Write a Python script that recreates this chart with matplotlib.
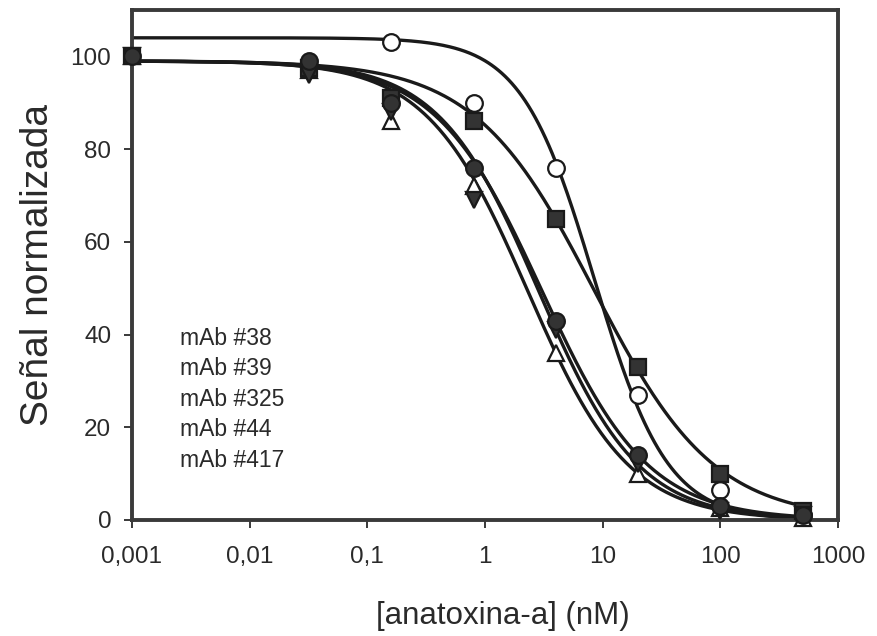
import numpy as np
import matplotlib
matplotlib.use("Agg")
import matplotlib.pyplot as plt
from matplotlib.ticker import FixedLocator, NullLocator

plt.rcParams['font.family'] = ['Liberation Sans', 'DejaVu Sans']

# concentrations (nM), 5-fold dilutions
conc = [0.001, 0.032, 0.16, 0.8, 4, 20, 100, 500]

# normalised signal (nan = not visible)
mab38 = [np.nan, np.nan, 103, 90, 76, 27, 6.5, 1]        # open circle
mab39 = [100, 97.5, 91, 86, 65, 33, 10, 2]               # filled square
mab325 = [100, 99, 90, 76, 43, 14, 3, 1]                 # filled circle
mab44 = [100, 97, 86, 72, 36, 10, 2.5, 0.5]              # open triangle
mab417 = [100, 96, 88, 69, 41, 12, 2, 1]                 # filled triangle down

# four-parameter logistic fit values (top, bottom, IC50, hill)
fit38 = [104, 0, 8.5, 1.4]
fit39 = [99, 0, 8.5, 0.85]
fit325 = [99, 0, 3.04, 0.96]
fit44 = [99, 0, 2.3, 1.01]
fit417 = [99, 0, 2.85, 1.02]

labels = ['mAb #38', 'mAb #39', 'mAb #325', 'mAb #44', 'mAb #417']
xticks = [0.001, 0.01, 0.1, 1, 10, 100, 1000]
xticklabels = ['0,001', '0,01', '0,1', '1', '10', '100', '1000']
yticks = [0, 20, 40, 60, 80, 100]


def logistic(x, p):
    top, bottom, ic50, hill = p
    return bottom + (top - bottom) / (1 + (x / ic50) ** hill)


fig = plt.figure(figsize=(8.78, 6.36), dpi=100)
ax = fig.add_axes([0.1503, 0.1824, 0.8041, 0.8019])

xs = np.logspace(-3, np.log10(500), 400)
dark = '#333333'
txt = '#2a2a2a'

series = [
    (mab38, fit38, 'o', 'white'),
    (mab44, fit44, '^', 'white'),
    (mab39, fit39, 's', dark),
    (mab417, fit417, 'v', dark),
    (mab325, fit325, 'o', dark),
]

for vals, fit, mk, fc in series:
    ax.plot(xs, logistic(xs, fit), color='#1a1a1a', lw=2.4, zorder=2)

for vals, fit, mk, fc in series:
    ms = 12 if mk != 's' else 11
    ax.plot(conc, vals, linestyle='none', marker=mk, markersize=ms,
            markerfacecolor=fc, markeredgecolor='#1a1a1a', markeredgewidth=1.6,
            clip_on=False, zorder=3)

ax.set_xscale('log')
ax.set_xlim(0.001, 1000)
ax.set_ylim(0, 110)
ax.xaxis.set_major_locator(FixedLocator(xticks))
ax.xaxis.set_minor_locator(NullLocator())
ax.set_xticklabels(xticklabels)
ax.set_yticks(yticks)

for s in ax.spines.values():
    s.set_linewidth(2.8)
    s.set_color('#3a3a3a')

ax.tick_params(direction='out', length=6, width=1.3, labelsize=17.5,
               colors=txt, pad=9)
ax.tick_params(axis='x', pad=13)
ax.set_xlabel('[anatoxina-a] (nM)', fontsize=22.5, color=txt)
ax.xaxis.set_label_coords(0.525, -0.158)
ax.set_ylabel('Señal normalizada', fontsize=28, color=txt, labelpad=10)

for i, lab in enumerate(labels):
    ax.text(0.068, 0.356 - i * 0.0597, lab, transform=ax.transAxes,
            fontsize=16.5, color=txt, va='center', ha='left')

fig.savefig('out.png', dpi=100)
